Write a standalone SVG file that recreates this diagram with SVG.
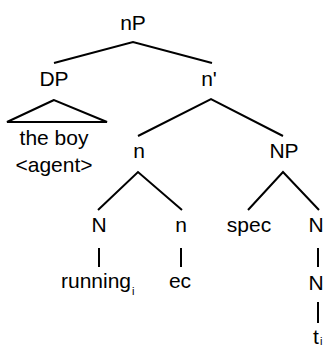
<svg xmlns="http://www.w3.org/2000/svg" width="325" height="345" viewBox="0 0 325 345">
  <style>
    text { font-family: "Liberation Sans", Arial, sans-serif; font-size: 21px; fill: #000; text-anchor: middle; }
    .sub { font-size: 11px; text-anchor: start; }
    .edge { stroke: #000; stroke-width: 2; fill: none; }
  </style>
  <rect width="325" height="345" fill="#fff"/>

  <!-- tree edges -->
  <g id="connectors">
    <polyline class="edge" points="54,63 133,42 212,63"/>
    <polyline class="edge" points="138,136 211,99 283,136"/>
    <polyline class="edge" points="98,210 138,172 182,210"/>
    <polyline class="edge" points="248,210 283,172 319,210"/>
    <line class="edge" x1="99" y1="248" x2="99" y2="267"/>
    <line class="edge" x1="181" y1="248" x2="181" y2="267"/>
    <line class="edge" x1="318" y1="248" x2="318" y2="267"/>
    <line class="edge" x1="318" y1="302" x2="318" y2="323"/>
  </g>

  <g id="nP"><text x="133" y="30">nP</text></g>
  <g id="DP">
    <text x="54" y="86">DP</text>
    <polygon class="edge" points="54,100 7,122 107,122"/>
    <text x="54" y="145">the boy</text>
    <text x="54" y="172">&lt;agent&gt;</text>
  </g>
  <g id="nbar"><text x="209" y="86">n'</text></g>
  <g id="n"><text x="139" y="158">n</text></g>
  <g id="NP"><text x="284" y="158">NP</text></g>
  <g id="N-head">
    <text x="99" y="232">N</text>
    <text x="96" y="288">running</text>
    <text class="sub" x="132" y="295">i</text>
  </g>
  <g id="n-head">
    <text x="181" y="232">n</text>
    <text x="180" y="288">ec</text>
  </g>
  <g id="spec"><text x="249" y="232">spec</text></g>
  <g id="N-comp">
    <text x="316" y="232">N</text>
    <text x="316" y="290">N</text>
    <text x="316" y="344">t</text>
    <text class="sub" x="320" y="345">i</text>
  </g>
</svg>
